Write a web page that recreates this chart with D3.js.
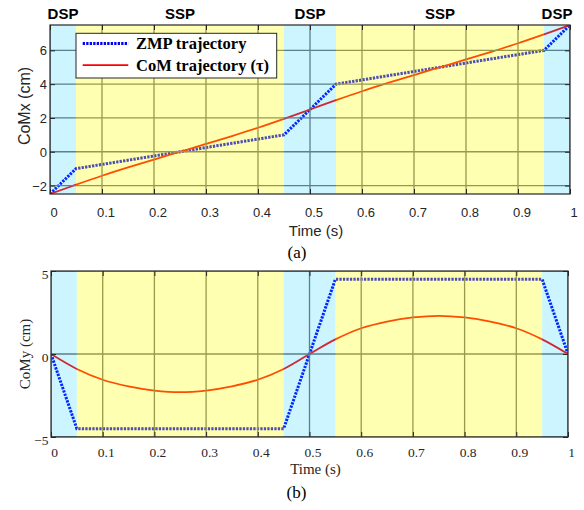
<!DOCTYPE html>
<html>
<head>
<meta charset="utf-8">
<script src="https://cdn.jsdelivr.net/npm/d3@7/dist/d3.min.js"></script>
<style>
  body { margin: 0; background: #fff; }
  svg { display: block; }
</style>
</head>
<body>
<svg id="fig" width="584" height="510"></svg>
<script>
// ---- data ----
const timeTicks = [0, 0.1, 0.2, 0.3, 0.4, 0.5, 0.6, 0.7, 0.8, 0.9, 1];
const phaseNames = ["DSP", "SSP", "DSP", "SSP", "DSP"];
const phaseStart = [0, 0.05, 0.45, 0.55, 0.95];
const phaseEnd   = [0.05, 0.45, 0.55, 0.95, 1];

const zmpTime = [0, 0.05, 0.45, 0.55, 0.95, 1];
const zmpX    = [-2.5, -1.0, 1.0, 4.0, 6.0, 7.5];
const zmpY    = [0, -4.5, -4.5, 4.5, 4.5, 0];

const comTime = [0, 0.05, 0.1, 0.15, 0.2, 0.25, 0.3, 0.35, 0.4, 0.45, 0.5,
                 0.55, 0.6, 0.65, 0.7, 0.75, 0.8, 0.85, 0.9, 0.95, 1];
const comX = [-2.5, -1.95, -1.42, -0.93, -0.46, 0, 0.46, 0.93, 1.42, 1.95, 2.5,
              3.05, 3.58, 4.07, 4.54, 5.0, 5.46, 5.93, 6.42, 6.95, 7.5];
const comY = [0, -0.9, -1.55, -1.95, -2.2, -2.3, -2.2, -1.95, -1.55, -0.9, 0,
              0.88, 1.55, 1.95, 2.2, 2.3, 2.2, 1.95, 1.55, 0.88, 0];

const yTicksA = [-2, 0, 2, 4, 6];
const yTicksB = [-5, 0, 5];

const legendLabels = ["ZMP trajectory", "CoM trajectory (\u03c4)"];

// ---- styling ----
const SANS = "'Liberation Sans', Arial, Helvetica, sans-serif";
const SERIF = "'Liberation Serif', 'Times New Roman', Times, serif";
const DSP_FILL = "rgb(0,204,255)", DSP_ALPHA = 0.2;
const SSP_FILL = "rgb(255,255,0)", SSP_ALPHA = 0.3;
const GRID = "#6e6e6e";
const AXIS = "#262626";

const svg = d3.select("#fig");

function drawPanel(opt) {
  const { id, left, right, top, bottom, yDomain, yTicks, comVals, zmpVals,
          font, tickSize, xLabelDx, yLabelX, yLabelDy, xLabelBase, titleBase,
          yTitle, yTitleX, titleY, caption, captionBase } = opt;

  const x = d3.scaleLinear().domain([0, 1]).range([left, right]);
  const y = d3.scaleLinear().domain(yDomain).range([bottom, top]);
  const g = svg.append("g");

  g.append("clipPath").attr("id", "clip-" + id)
    .append("rect").attr("x", left).attr("y", top)
    .attr("width", right - left).attr("height", bottom - top);

  const plot = g.append("g").attr("clip-path", `url(#clip-${id})`);

  // trajectories
  const comLine = d3.line().x((d, i) => x(comTime[i])).y(d => y(d))
    .curve(d3.curveCatmullRom.alpha(0.5));
  const zmpLine = d3.line().x((d, i) => x(zmpTime[i])).y(d => y(d));

  plot.append("path").datum(zmpVals).attr("d", zmpLine)
    .attr("fill", "none").attr("stroke", "#0000ff")
    .attr("stroke-width", 3).attr("stroke-dasharray", "2.3 1.2");
  plot.append("path").datum(comVals).attr("d", comLine)
    .attr("fill", "none").attr("stroke", "#ff0000").attr("stroke-width", 1.8);

  // grid
  plot.append("g").selectAll("line").data(timeTicks).join("line")
    .attr("x1", d => x(d)).attr("x2", d => x(d))
    .attr("y1", top).attr("y2", bottom)
    .attr("stroke", GRID).attr("stroke-width", 1.3);
  plot.append("g").selectAll("line").data(yTicks).join("line")
    .attr("x1", left).attr("x2", right)
    .attr("y1", d => y(d)).attr("y2", d => y(d))
    .attr("stroke", GRID).attr("stroke-width", 1.3);

  // support phase bands, translucent over lines and grid
  plot.append("g").selectAll("rect").data(phaseNames).join("rect")
    .attr("x", (d, i) => x(phaseStart[i]))
    .attr("width", (d, i) => x(phaseEnd[i]) - x(phaseStart[i]))
    .attr("y", top).attr("height", bottom - top)
    .attr("fill", d => d === "DSP" ? DSP_FILL : SSP_FILL)
    .attr("fill-opacity", d => d === "DSP" ? DSP_ALPHA : SSP_ALPHA);

  // ticks on all four sides, pointing inward
  const xb = g.append("g").attr("transform", `translate(0,${bottom})`)
    .call(d3.axisBottom(x).tickValues(timeTicks).tickSizeInner(-tickSize).tickSizeOuter(0)
      .tickFormat(d3.format("")));
  const xt = g.append("g").attr("transform", `translate(0,${top})`)
    .call(d3.axisTop(x).tickValues(timeTicks).tickSizeInner(-tickSize).tickSizeOuter(0)
      .tickFormat(""));
  const yl = g.append("g").attr("transform", `translate(${left},0)`)
    .call(d3.axisLeft(y).tickValues(yTicks).tickSizeInner(-tickSize).tickSizeOuter(0)
      .tickFormat(d3.format("")));
  const yr = g.append("g").attr("transform", `translate(${right},0)`)
    .call(d3.axisRight(y).tickValues(yTicks).tickSizeInner(-tickSize).tickSizeOuter(0)
      .tickFormat(""));
  [xb, xt, yl, yr].forEach(a => {
    a.select(".domain").remove();
    a.selectAll(".tick line").attr("stroke", AXIS).attr("stroke-width", 1);
  });
  xb.selectAll(".tick text")
    .attr("y", xLabelBase - bottom).attr("dy", 0).attr("dx", xLabelDx)
    .attr("fill", "#262626").style("font-family", font.family).style("font-size", font.tick + "px");
  yl.selectAll(".tick text")
    .attr("x", yLabelX - left).attr("dy", yLabelDy)
    .attr("fill", "#262626").style("font-family", font.family).style("font-size", font.tick + "px");

  // box
  g.append("rect").attr("x", left).attr("y", top)
    .attr("width", right - left).attr("height", bottom - top)
    .attr("fill", "none").attr("stroke", AXIS).attr("stroke-width", 1.2);

  // axis titles
  g.append("text").attr("x", (left + right) / 2 + 6).attr("y", titleBase)
    .attr("text-anchor", "middle").attr("fill", "#262626")
    .style("font-family", font.family).style("font-size", font.title + "px")
    .text("Time (s)");
  g.append("text")
    .attr("transform", `translate(${yTitleX},${titleY}) rotate(-90)`)
    .attr("text-anchor", "middle").attr("fill", "#262626")
    .style("font-family", font.family).style("font-size", font.ytitle + "px")
    .text(yTitle);

  // caption
  g.append("text").attr("x", (left + right) / 2 - 13).attr("y", captionBase)
    .attr("text-anchor", "middle").attr("fill", "#000")
    .style("font-family", SERIF).style("font-size", "17px")
    .text(caption);

  return { g, x, y };
}

// panel (a): sagittal CoM / ZMP
const A = drawPanel({
  id: "a", left: 50, right: 570, top: 25, bottom: 194,
  yDomain: [-2.5, 7.5], yTicks: yTicksA, comVals: comX, zmpVals: zmpX,
  font: { family: SANS, tick: 13, title: 15, ytitle: 16 }, tickSize: 5,
  xLabelDx: 3.5, yLabelX: 47, yLabelDy: "0.35em", xLabelBase: 216.5,
  titleBase: 236, yTitle: "CoMx (cm)", yTitleX: 29.5, titleY: 106,
  caption: "(a)", captionBase: 258
});

// support phase names above panel (a)
A.g.append("g").selectAll("text").data(phaseNames).join("text")
  .attr("x", (d, i) => A.x((phaseStart[i] + phaseEnd[i]) / 2))
  .attr("y", 19.3).attr("text-anchor", "middle").attr("fill", "#000")
  .style("font-family", SANS).style("font-size", "15px").style("font-weight", "bold")
  .text(d => d);

// legend
const lg = A.g.append("g");
lg.append("rect").attr("x", 76).attr("y", 33.3).attr("width", 200.7).attr("height", 44.7)
  .attr("fill", "#fff").attr("stroke", AXIS).attr("stroke-width", 1);
const legendStyles = [
  { stroke: "#0000ff", width: 3, dash: "2.3 1.2" },
  { stroke: "#ff0000", width: 1.8, dash: null }
];
legendLabels.forEach((lab, i) => {
  const cy = 43.5 + i * 21.7;
  lg.append("line").attr("x1", 82.7).attr("x2", 128.3).attr("y1", cy).attr("y2", cy)
    .attr("stroke", legendStyles[i].stroke).attr("stroke-width", legendStyles[i].width)
    .attr("stroke-dasharray", legendStyles[i].dash);
  lg.append("text").attr("x", 136).attr("y", cy + 5.8)
    .attr("fill", "#000").style("font-family", SERIF).style("font-size", "16.5px")
    .style("font-weight", "bold").text(lab);
});

// panel (b): lateral CoM / ZMP
drawPanel({
  id: "b", left: 51, right: 568, top: 271, bottom: 437,
  yDomain: [-5, 5], yTicks: yTicksB, comVals: comY, zmpVals: zmpY,
  font: { family: SERIF, tick: 13.5, title: 15, ytitle: 15 }, tickSize: 5,
  xLabelDx: 3, yLabelX: 48.5, yLabelDy: "0.55em", xLabelBase: 456.5,
  titleBase: 474, yTitle: "CoMy (cm)", yTitleX: 29.5, titleY: 354,
  caption: "(b)", captionBase: 498
});
</script>
</body>
</html>
